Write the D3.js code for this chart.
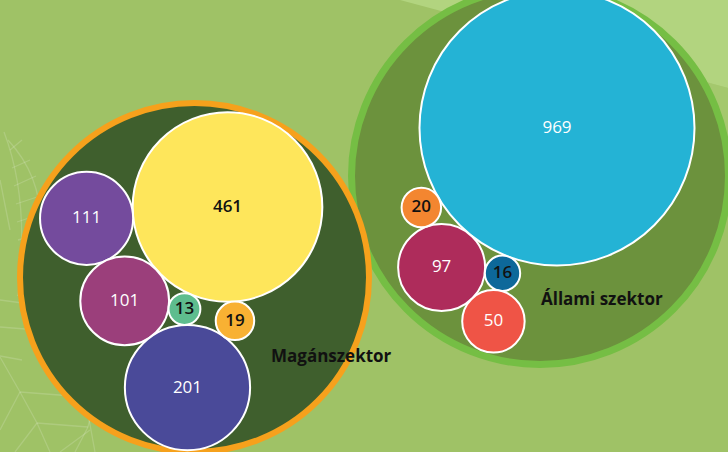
<!DOCTYPE html>
<html><head><meta charset="utf-8">
<script src="https://cdn.jsdelivr.net/npm/d3@7"></script>
<style>
html,body{margin:0;padding:0;background:#9fc266;}
svg{display:block;font-family:'Open Sans',sans-serif;}
</style>
</head><body>
<svg id="chart" width="728" height="452"></svg>
<script>
// ---- data ----
const groupNames = ["Magánszektor", "Állami szektor"];
const bubbleGroup = [0, 0, 0, 0, 0, 0, 1, 1, 1, 1, 1];
const bubbleValues = [461, 111, 101, 13, 201, 19, 969, 97, 20, 16, 50];
const bubbleLabels = ["461", "111", "101", "13", "201", "19", "969", "97", "20", "16", "50"];

// ---- styles ----
const bubbleFill = ["#fee65b", "#744b9d", "#9b3f7b", "#5ebd8e", "#4a4a99", "#f8b133",
                    "#24b3d5", "#ae2c5b", "#f38630", "#0d689a", "#ef5446"];
const bubbleText = ["#111", "#fff", "#fff", "#111", "#fff", "#111",
                    "#fff", "#fff", "#111", "#111", "#fff"];
const bubbleWeight = [600, 400, 400, 600, 400, 600, 400, 400, 600, 600, 400];
const groupFill = ["#3f5f2d", "#6c923d"];
const groupStroke = ["#f6a11c", "#75be44"];
const groupStrokeW = [6, 7];

// ---- layout (packed-bubble arrangement) ----
const groupLayout = [
  {cx: 194.5, cy: 277.5, R: 174.5, root: [33, -70.5], angle: 175.4, label: [76.5, 84]},
  {cx: 540,   cy: 176,   R: 188.5, root: [17, -48],   angle: 129.6, label: [1, 129]}
];
// each bubble: touching bubbles [a, b, side]; [a] = placed at group angle from a; [] = root
const touches = [[], [0], [0, 1, -1], [0, 2, -1], [2, 3, 1], [0, 4, -1],
                 [], [6], [6, 7, 1], [6, 7, -1], [7, 9, 1]];

const svg = d3.select("#chart");
const W = 728, H = 452;

const rScale = d3.scaleSqrt().domain([0, d3.max(bubbleValues)]).range([0, 137.5]);
const nodes = bubbleValues.map((v, i) => ({i, v, g: bubbleGroup[i], r: rScale(v), label: bubbleLabels[i]}));

function tangent(A, B, rc, side) {
  const dx = B.x - A.x, dy = B.y - A.y, d = Math.hypot(dx, dy);
  const a = A.r + rc, b = B.r + rc;
  const x = (d * d + a * a - b * b) / (2 * d);
  const h = Math.sqrt(Math.max(0, a * a - x * x));
  const ux = dx / d, uy = dy / d;
  return [A.x + x * ux - side * h * uy, A.y + x * uy + side * h * ux];
}
nodes.forEach((n, i) => {
  const t = touches[i], L = groupLayout[n.g];
  if (t.length === 0) { n.x = L.cx + L.root[0]; n.y = L.cy + L.root[1]; }
  else if (t.length === 1) {
    const A = nodes[t[0]], a = L.angle * Math.PI / 180, d = A.r + n.r;
    n.x = A.x + d * Math.cos(a); n.y = A.y + d * Math.sin(a);
  } else {
    const p = tangent(nodes[t[0]], nodes[t[1]], n.r, t[2]);
    n.x = p[0]; n.y = p[1];
  }
});

// ---- background ----
svg.append("rect").attr("width", W).attr("height", H).attr("fill", "#9fc266");
svg.append("polygon").attr("points", "400,0 728,0 728,88").attr("fill", "#b2d47f");
svg.append("polygon").attr("points", "728,88 640,64 728,150").attr("fill", "#a8cb72").attr("opacity", 0.6);

// faint leaf pattern
const leaf = svg.append("g").attr("fill", "none").attr("stroke", "#ffffff")
  .attr("stroke-opacity", 0.16).attr("stroke-width", 1.3);
const leafPaths = [
  "M4,132 Q30,200 18,296", "M8,140 Q45,180 40,236 Q30,270 18,296",
  "M10,150 L22,140", "M12,168 L30,160", "M14,186 L36,176", "M16,204 L40,196",
  "M17,222 L41,214", "M18,240 L40,234", "M18,258 L36,252", "M18,276 L30,272",
  "M0,300 L30,304", "M0,327 L38,330", "M0,356 L22,360", "M0,180 L10,230",
  "M0,357 L20,392 L37,423 L50,452", "M20,392 L85,397", "M20,392 L0,430",
  "M37,423 L88,427", "M37,423 L15,452", "M85,397 L95,452", "M88,427 L75,452",
  "M88,427 L92,410", "M60,452 L90,430"
];
leaf.selectAll("path").data(leafPaths).join("path").attr("d", d => d);

// ---- parent circles (right first, left on top) ----
const order = [1, 0];
order.forEach(g => {
  const L = groupLayout[g];
  svg.append("circle").attr("cx", L.cx).attr("cy", L.cy).attr("r", L.R)
    .attr("fill", groupFill[g]).attr("stroke", groupStroke[g]).attr("stroke-width", groupStrokeW[g]);
});

// ---- bubbles ----
const bg = svg.append("g");
bg.selectAll("circle").data(nodes).join("circle")
  .attr("cx", d => d.x).attr("cy", d => d.y).attr("r", d => d.r)
  .attr("fill", d => bubbleFill[d.i]).attr("stroke", "#fff").attr("stroke-width", 2);
bg.selectAll("text").data(nodes).join("text")
  .attr("x", d => d.x).attr("y", d => d.y - 1).attr("dy", "0.35em")
  .attr("text-anchor", "middle").attr("font-size", 17)
  .attr("font-weight", d => bubbleWeight[d.i])
  .attr("fill", d => bubbleText[d.i]).text(d => d.label);

// ---- group labels ----
groupNames.forEach((name, g) => {
  const L = groupLayout[g];
  svg.append("text").attr("x", L.cx + L.label[0]).attr("y", L.cy + L.label[1])
    .attr("font-size", 17).attr("font-weight", 700).attr("fill", "#111").text(name);
});
</script>
</body></html>
